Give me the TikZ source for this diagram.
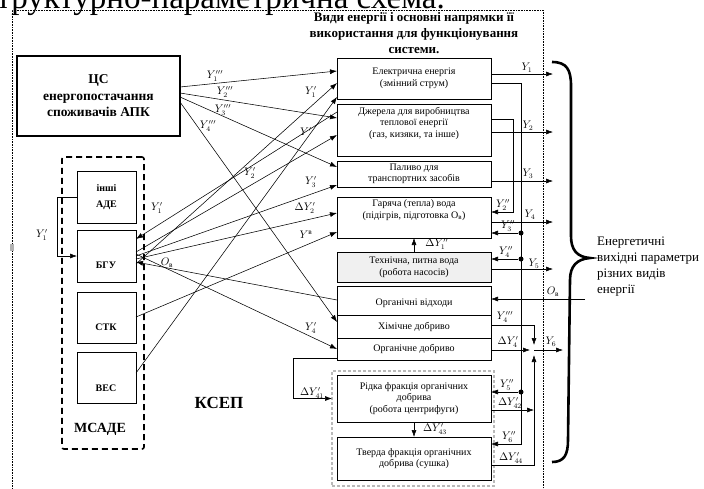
\documentclass[tikz,border=0pt]{standalone}
\usepackage{amsmath}
\usepackage{fontspec}
\setmainfont{Liberation Serif}
\usetikzlibrary{calc,arrows.meta}

\tikzset{
	box/.style={draw, line width=0.6pt, anchor=north west, inner sep=0pt, outer sep=0pt},
	txt/.style={align=center, font=\fontsize{10}{11.5}\selectfont, inner sep=0pt},
	btxt/.style={align=center, font=\bfseries\fontsize{10}{16}\selectfont, inner sep=0pt},
	lab/.style={font=\fontsize{10.5}{10.5}\selectfont, inner sep=0pt},
	arr/.style={-{Latex[length=7pt,width=5pt]}, line width=0.55pt},
	dot/.style={circle, fill, inner sep=0pt, minimum size=5pt},
}

\begin{document}
\begin{tikzpicture}[x=1pt,y=-1pt]
			%%%%% START %%%%%
			\useasboundingbox (0,0) rectangle (704,488);
			
			\node[anchor=base east, inner sep=0pt, font=\fontsize{33}{36}\selectfont] (title) at (445,8) {структурно-параметрична схема.};
			\node[btxt, font=\bfseries\fontsize{13}{16}\selectfont] (head) at (414,33) {Види енергії і основні напрямки її\\використання для функціонування\\системи.};
			
			\draw[densely dotted, line width=0.6pt] (12,490) -- (12,10) -- (543,10) -- (543,490);
			\fill[gray!60] (10,244) rectangle (14,251);
			
			\node[box, btxt, line width=1.8pt, minimum width=163, minimum height=80, font=\bfseries\fontsize{13.5}{16.5}\selectfont] (cs) at (17,56) {ЦС\\енергопостачання\\споживачів АПК};
			
			\node[box, line width=1.6pt, dash pattern=on 6pt off 4pt, rounded corners=2pt, minimum width=82, minimum height=292] (msade) at (62,157) {};
			\node[btxt, font=\bfseries\fontsize{14}{14}\selectfont] (msadetxt) at (100,429) {МСАДЕ};
			\node[box, btxt, minimum width=59, minimum height=52] (ade) at (77,171) {інші\\АДЕ};
			\node[box, minimum width=59, minimum height=52] (bgu) at (77,230) {};
			\node[btxt] (bgutxt) at (106,265) {БГУ};
			\node[box, minimum width=59, minimum height=51] (stk) at (77,292) {};
			\node[btxt] (stktxt) at (106,327) {СТК};
			\node[box, minimum width=59, minimum height=51] (wes) at (77,352) {};
			\node[btxt] (westxt) at (106,388) {ВЕС};
			
			\node[btxt, font=\bfseries\fontsize{17}{17}\selectfont] (ksep) at (219,403) {КСЕП};
			
			\node[box, txt, minimum width=154, minimum height=41] (el) at (337,58) {Електрична енергія\\(змінний струм)};
			\node[box, minimum width=154, minimum height=52] (gas) at (337,104) {};
			\node[txt] (gastxt) at (414,123) {Джерела для виробництва\\теплової енергії\\(газ, кизяки, та інше)};
			\node[box, txt, minimum width=154, minimum height=26] (fuel) at (337,161) {Паливо для\\транспортних засобів};
			\node[box, minimum width=154, minimum height=41] (hot) at (337,197) {};
			\node[txt] (hottxt) at (414,210) {Гаряча (тепла) вода\\(підігрів, підготовка O\textsubscript{в})};
			\node[box, txt, fill=gray!12, minimum width=154, minimum height=30] (tech) at (337,252) {Технічна, питна вода\\(робота насосів)};
			\node[box, minimum width=154, minimum height=29] (orgw) at (337,286) {};
			\node[txt] (orgwtxt) at (414,303) {Органічні відходи};
			\node[box, txt, minimum width=154, minimum height=23] (chem) at (337,315) {Хімічне добриво};
			\node[box, txt, minimum width=154, minimum height=22] (orgf) at (337,338) {Органічне добриво};
			\node[box, draw=gray!55, line width=1.3pt, dash pattern=on 3pt off 2pt, minimum width=162, minimum height=115] (sepfr) at (332,371) {};
			\node[box, txt, minimum width=154, minimum height=47] (liq) at (337,375) {Рідка фракція органічних\\добрива\\(робота центрифуги)};
			\node[box, txt, minimum width=154, minimum height=43] (solid) at (337,437) {Тверда фракція органічних\\добрива (сушка)};
			
			\draw[arr] ($(cs.north east)+(0,31)$) -- ($(el.north west)+(0,13)$);
			\draw[arr] ($(cs.north east)+(0,37)$) -- ($(gas.north west)+(0,14)$);
			\draw[arr] ($(cs.north east)+(0,41)$) -- ($(fuel.north west)+(0,6)$);
			\draw[arr] ($(cs.north east)+(0,46)$) -- ($(chem.north west)+(0,7)$);
			
			\draw[arr] (ade.west) -- ++(-20,0) |- (bgu.west);
			\draw[arr] ($(gas.north west)+(0,8)$) -- ($(bgu.north east)+(0,9)$);
			\draw[arr] ($(bgu.north east)+(0,34)$) -- ($(el.north west)+(0,25)$);
			\draw[arr] ($(bgu.north east)+(0,22)$) -- ($(gas.north west)+(0,31)$);
			\draw[arr] ($(bgu.north east)+(0,26)$) -- ($(fuel.north west)+(0,24)$);
			\draw[arr] ($(bgu.north east)+(0,29)$) -- ($(hot.north west)+(0,16)$);
			\draw[arr] ($(orgw.north west)+(0,14)$) -- ($(bgu.north east)+(0,32)$);
			\draw[arr] ($(bgu.north east)+(0,24)$) -- ($(orgf.north west)+(0,11)$);
			\draw[arr] ($(stk.north east)+(0,25)$) -- ($(hot.north west)+(0,35)$);
			\draw[arr] ($(wes.north east)+(0,21)$) -- ($(el.north west)+(0,39)$);
			
			\foreach \b/\d in {el/16, gas/28, fuel/20, hot/25, tech/17}
				\draw[arr] ($(\b.north east)+(0,\d)$) -- ++(62,0);
			
			\draw[arr] ($(el.north east)+(0,25)$) -- ++(30,0) |- ($(solid.north east)+(0,7)$);
			\node[dot] (d1) at (521,233) {};
			\node[dot] (d2) at (521,259) {};
			\node[dot] (d3) at (521,392) {};
			\draw[arr] (d1) -- (hot.east |- d1);
			\draw[arr] (d2) -- (tech.east |- d2);
			\draw[arr] (d3) -- (liq.east |- d3);
			\draw[arr] ($(gas.north east)+(0,15)$) -- ++(22,0) |- ($(hot.north east)+(0,15)$);
			
			\coordinate (obin) at (585,299);
			\draw[arr] (obin) -- (orgw.east |- obin);
			
			\coordinate (jn) at (534,350);
			\draw[arr] ($(chem.north east)+(0,10)$) -| ($(jn)+(0,-5)$);
			\draw[arr] (orgf.east |- jn) -- ($(jn)+(-4,0)$);
			\draw[arr] (jn) -- ++(29,0);
			\draw[arr] ($(liq.north east)+(0,35)$) -- ++(43,0);
			\draw[arr] ($(solid.north east)+(0,28)$) -| ($(jn)+(0,5)$);
			
			\draw[arr] (tech.north) -- (hot.south);
			\draw[arr] (liq.south) -- (solid.north);
			\draw[arr] ($(orgf.south west)+(0,-2)$) -- ++(-44,0) |- ($(liq.west)+(-5,0)$);
			
			\node[lab] (lc1) at (215,76) {$Y'''_1$};
			\node[lab] (lc2) at (225,92) {$Y'''_2$};
			\node[lab] (lc3) at (223,110) {$Y'''_3$};
			\node[lab] (lc4) at (208,126) {$Y'''_4$};
			\node[lab] (lb0) at (157,208) {$Y'_1$};
			\node[lab] (lb1) at (311,92) {$Y'_1$};
			\node[lab] (lw1) at (306,132) {$Y'$};
			\node[lab] (lb2) at (250,173) {$Y'_2$};
			\node[lab] (lb3) at (311,182) {$Y'_3$};
			\node[lab] (lb4) at (305,208) {$\Delta Y'_2$};
			\node[lab] (ls1) at (306,235) {$Y^{\text{в}}$};
			\node[lab] (lob) at (167,263) {$O_{\text{в}}$};
			\node[lab] (lb5) at (311,328) {$Y'_4$};
			\node[lab] (la1) at (42,235) {$Y'_1$};
			\node[lab] (lq1) at (312,393) {$\Delta Y'_{41}$};
			
			\node[lab] (ly1) at (527,68) {$Y_1$};
			\node[lab] (ly2) at (528,126) {$Y_2$};
			\node[lab] (ly3) at (528,174) {$Y_3$};
			\node[lab] (ly4) at (530,215) {$Y_4$};
			\node[lab] (ly5) at (534,264) {$Y_5$};
			\node[lab] (ly6) at (551,342) {$Y_6$};
			\node[lab] (lh2) at (503,205) {$Y''_2$};
			\node[lab] (lh3) at (508,226) {$Y''_3$};
			\node[lab] (lt4) at (506,252) {$Y''_4$};
			\node[lab] (lobr) at (553,292) {$O_{\text{в}}$};
			\node[lab] (lc4r) at (505,317) {$Y'''_4$};
			\node[lab] (lf4) at (508,342) {$\Delta Y'_4$};
			\node[lab] (lq5) at (507,385) {$Y''_5$};
			\node[lab] (lq42) at (510,403) {$\Delta Y'_{42}$};
			\node[lab] (lq6) at (509,437) {$Y''_6$};
			\node[lab] (lq44) at (511,458) {$\Delta Y'_{44}$};
			\node[lab] (lt1) at (437,244) {$\Delta Y''_1$};
			\node[lab] (lq43) at (435,429) {$\Delta Y'_{43}$};
			
			\draw[line width=2.6pt] (552,62) .. controls (567,62) and (571,70) .. (571,86) -- (571,236) .. controls (571,250) and (577,257) .. (590,258) .. controls (577,259) and (570,266) .. (570,280) -- (568,440) .. controls (568,455) and (564,462) .. (552,462);
			\node[anchor=north west, align=left, inner sep=0pt, font=\fontsize{13}{16}\selectfont] (outtxt) at (597,237) {Енергетичні\\вихідні параметри\\різних видів\\енергії};
			%%%%% END %%%%%
\end{tikzpicture}
\end{document}
